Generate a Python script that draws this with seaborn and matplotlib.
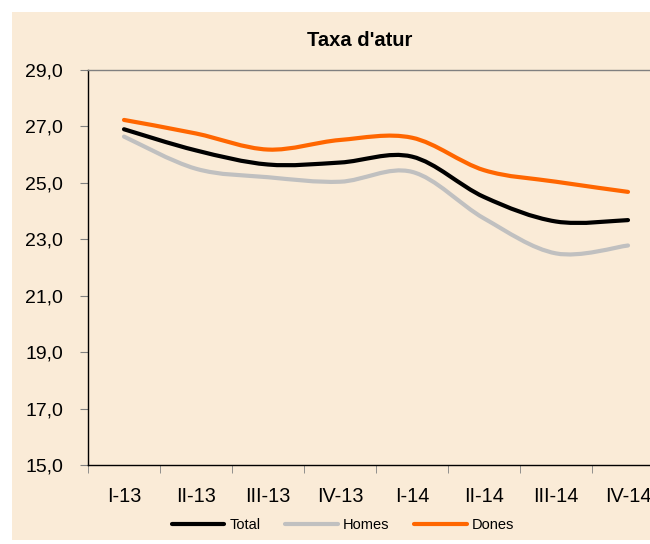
import numpy as np
import seaborn as sns
import matplotlib.pyplot as plt
from matplotlib.path import Path
from matplotlib.patches import PathPatch, Rectangle
from matplotlib.lines import Line2D
from matplotlib.ticker import FuncFormatter

# Data (unemployment rate, %)
trimestres = ['I-13', 'II-13', 'III-13', 'IV-13', 'I-14', 'II-14', 'III-14', 'IV-14']
total = [26.90, 26.15, 25.65, 25.72, 25.93, 24.50, 23.63, 23.68]
homes = [26.64, 25.50, 25.20, 25.04, 25.39, 23.74, 22.50, 22.78]
dones = [27.23, 26.75, 26.18, 26.52, 26.60, 25.45, 25.04, 24.68]

series = ['Total', 'Homes', 'Dones']
valors = [total, homes, dones]
colors = ['#000000', '#C0C0C0', '#FF6600']

bg = '#FAEBD7'

sns.set_style('white')
plt.rcParams['font.family'] = ['Liberation Sans', 'DejaVu Sans']
plt.rcParams['text.color'] = 'black'


def smooth_path(xs, ys):
    # Excel-style smoothed line: Catmull-Rom converted to cubic Bezier
    pts = np.column_stack([xs, ys])
    n = len(pts)
    verts = [pts[0]]
    codes = [Path.MOVETO]
    for i in range(n - 1):
        p0 = pts[i - 1] if i > 0 else pts[i]
        p1 = pts[i]
        p2 = pts[i + 1]
        p3 = pts[i + 2] if i + 2 < n else pts[i + 1]
        c1 = p1 + (p2 - p0) / 6.0
        c2 = p2 - (p3 - p1) / 6.0
        verts += [c1, c2, p2]
        codes += [Path.CURVE4] * 3
    return Path(verts, codes)


fig = plt.figure(figsize=(6.5, 5.44), dpi=100)
fig.patch.set_facecolor('white')
fig.patches.append(Rectangle((12 / 650, 4 / 544), 1, 528 / 544,
                             transform=fig.transFigure, facecolor=bg,
                             edgecolor='none', zorder=-10))

ax = fig.add_axes([88 / 650, 79 / 544, 576 / 650, 395 / 544])
ax.set_facecolor(bg)

x = np.arange(len(trimestres))
for nom, vals, c in zip(series, valors, colors):
    patch = PathPatch(smooth_path(x, vals), facecolor='none', edgecolor=c,
                      lw=3, capstyle='round', joinstyle='round', zorder=3)
    ax.add_patch(patch)

ax.set_xlim(-0.5, len(trimestres) - 0.5)
ax.set_ylim(15, 29)

ax.set_yticks(np.arange(15, 30, 2))
ax.yaxis.set_major_formatter(FuncFormatter(lambda v, p: f'{v:.1f}'.replace('.', ',')))
ax.tick_params(axis='y', direction='out', length=6, color='#808080',
               labelcolor='black', labelsize=14, pad=12, left=True)

ax.set_xticks(x)
ax.set_xticklabels(trimestres)
ax.set_xticks(np.arange(-0.5, len(trimestres)), minor=True)
ax.tick_params(axis='x', which='major', length=0, labelsize=14.3,
               labelcolor='black', pad=16)
ax.tick_params(axis='x', which='minor', direction='out', length=6,
               color='#808080', bottom=True)

for s in ['left', 'bottom']:
    ax.spines[s].set_color('black')
    ax.spines[s].set_linewidth(1)
ax.spines['top'].set_color('#808080')
ax.spines['top'].set_linewidth(1)
ax.spines['right'].set_visible(False)

fig.text(359.5 / 650, 1 - 40 / 544, "Taxa d'atur", ha='center', va='center',
         fontsize=14.5, fontweight='bold', color='black')

handles = [Line2D([], [], color=c, lw=3) for c in colors]
fig.legend(handles, series, loc='center', bbox_to_anchor=(343 / 650, 1 - 525 / 544),
           ncol=3, frameon=False, fontsize=10.5, handlelength=3.6,
           handletextpad=0.35, columnspacing=1.7, labelcolor='black')

fig.savefig('out.png', dpi=100, facecolor='white')
